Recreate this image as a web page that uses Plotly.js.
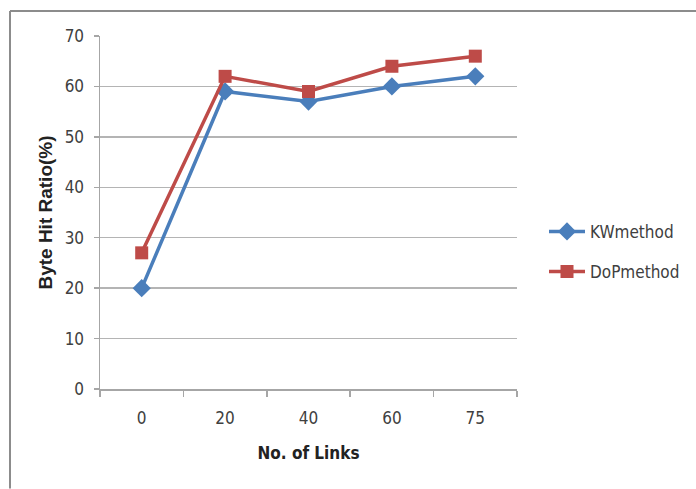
<!DOCTYPE html>
<html>
<head>
<meta charset="utf-8">
<script src="https://cdn.plot.ly/plotly-3.0.1.min.js"></script>
<style>
html,body{margin:0;padding:0;background:#fff;}
#chart{width:696px;height:489px;}
</style>
</head>
<body>
<div id="chart"></div>
<script>
const categories = ["0", "20", "40", "60", "75"];
const kwValues = [20, 59, 57, 60, 62];
const dopValues = [27, 62, 59, 64, 66];
const yTicks = [0, 10, 20, 30, 40, 50, 60, 70];

const W = 696, H = 489;
const L = 100, R = 517, T = 36, B = 389.3;
const pw = R - L, ph = B - T;
function px(x){ return (x - L) / pw; }
function py(y){ return (B - y) / ph; }

const tickFont = {family: "DejaVu Sans Condensed, DejaVu Sans, sans-serif", size: 17, color: "#404040"};

const traces = [
  {
    x: categories, y: kwValues, name: "KWmethod", type: "scatter", mode: "lines+markers",
    line: {color: "#4A7EBB", width: 3.5},
    marker: {symbol: "diamond", size: 14, color: "#4A7EBB"},
    legendgroup: "a"
  },
  {
    x: categories, y: dopValues, name: "DoPmethod", type: "scatter", mode: "lines+markers",
    line: {color: "#BE4B48", width: 3.5},
    marker: {symbol: "square", size: 13, color: "#BE4B48"},
    legendgroup: "b"
  }
];

const layout = {
  width: W, height: H,
  margin: {l: L, r: W - R, t: T, b: H - B, pad: 0, autoexpand: false},
  paper_bgcolor: "#fff", plot_bgcolor: "#fff",
  showlegend: true,
  legend: {
    x: px(544), y: py(214), xanchor: "left", yanchor: "top",
    font: tickFont, traceorder: "grouped", tracegroupgap: 15, itemwidth: 36,
    bgcolor: "rgba(0,0,0,0)"
  },
  xaxis: {
    type: "category", range: [-0.5, 4.5],
    showline: true, linecolor: "#a6a6a6", linewidth: 1.5,
    ticks: "outside", tickson: "boundaries", ticklen: 6, tickcolor: "#a6a6a6", tickwidth: 1.5,
    showgrid: false, zeroline: false,
    tickfont: tickFont, ticklabelstandoff: 13,
    title: {text: "No. of Links", font: {family: "DejaVu Sans Condensed, DejaVu Sans, sans-serif", size: 17, color: "#222", weight: "bold"}, standoff: 20}
  },
  yaxis: {
    range: [0, 70], tickvals: yTicks, ticktext: yTicks.map(String),
    showline: true, linecolor: "#a6a6a6", linewidth: 1.5,
    ticks: "outside", ticklen: 5, tickcolor: "#a6a6a6", tickwidth: 1.5,
    showgrid: true, gridcolor: "#b4b4b4", gridwidth: 1.5, zeroline: false,
    tickfont: tickFont, ticklabelstandoff: 6,
    title: {text: "Byte Hit Ratio(%)", font: {family: "Liberation Sans, Arial, sans-serif", size: 19, color: "#222", weight: "bold"}, standoff: 7}
  },
  shapes: [
    {type: "line", xref: "paper", yref: "paper", x0: px(10), x1: px(696), y0: py(11), y1: py(11), line: {color: "#8c8c8c", width: 2}},
    {type: "line", xref: "paper", yref: "paper", x0: px(10), x1: px(10), y0: py(489), y1: py(11), line: {color: "#8c8c8c", width: 2}}
  ]
};

Plotly.newPlot("chart", traces, layout, {displayModeBar: false, staticPlot: true});
</script>
</body>
</html>
